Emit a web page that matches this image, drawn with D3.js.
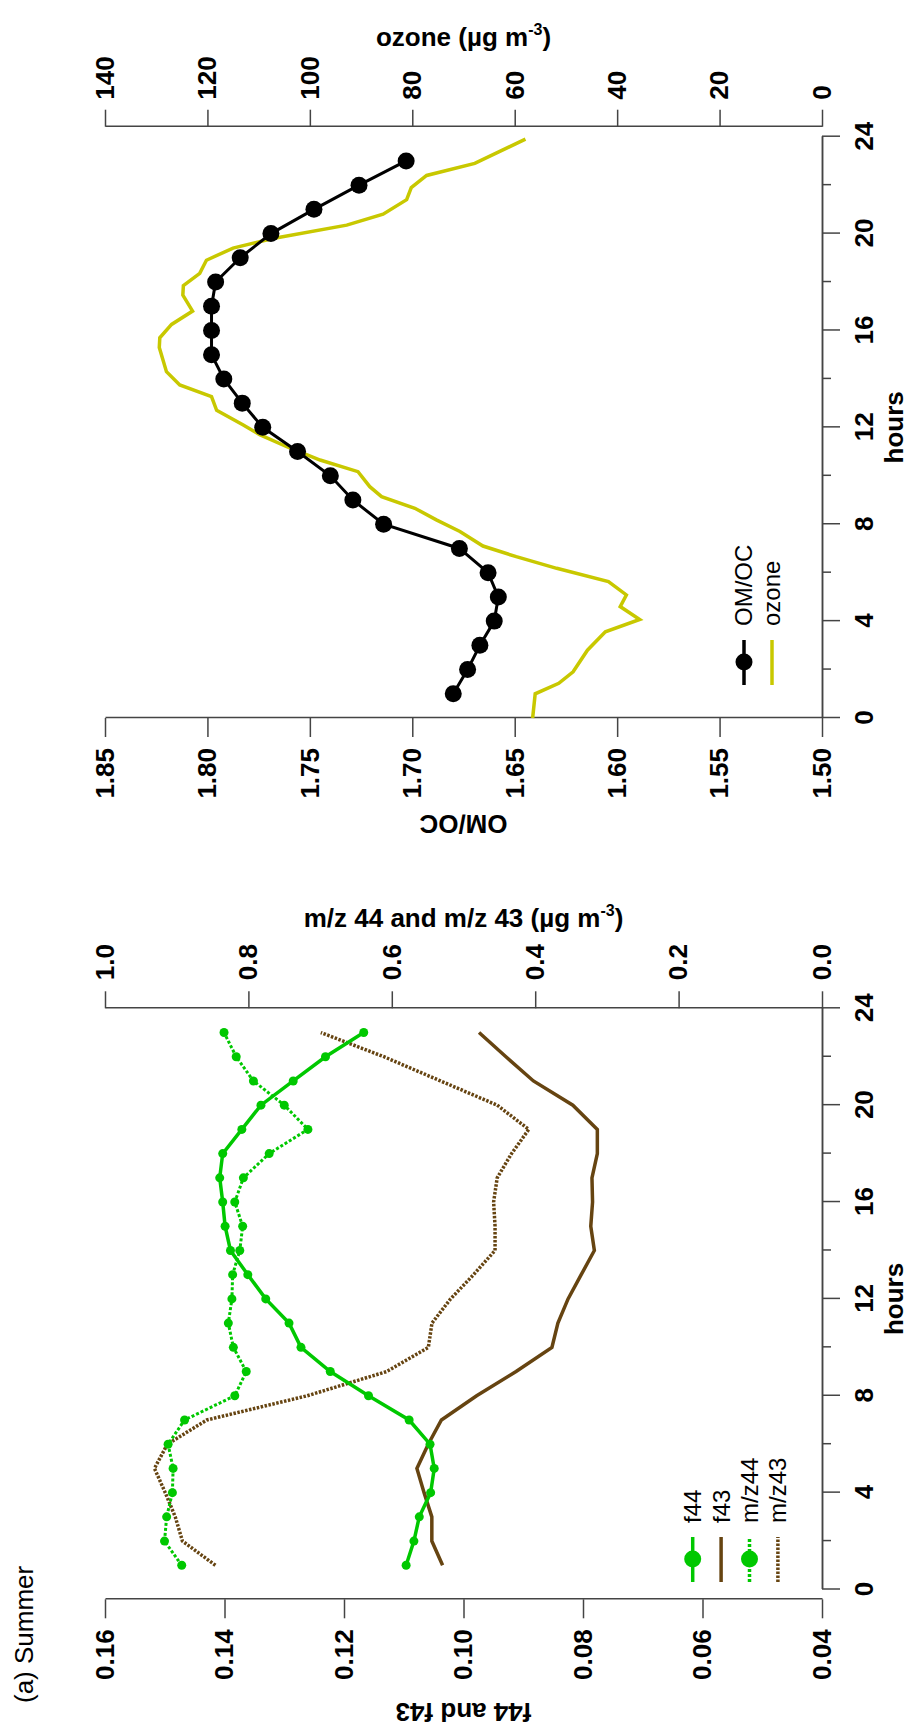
<!DOCTYPE html>
<html>
<head>
<meta charset="utf-8">
<script src="https://cdn.jsdelivr.net/npm/d3@7"></script>
<style>
body { margin: 0; background: #fff; }
</style>
</head>
<body>
<script>
//hours of the day for the hourly series
var hours = [1, 2, 3, 4, 5, 6, 7, 8, 9, 10, 11, 12, 13, 14, 15, 16, 17, 18, 19, 20, 21, 22, 23];

//panel (a) summer: fractions (left axis) and signals (right axis)
var f44 = [0.1096, 0.1083, 0.1074, 0.1055, 0.1049, 0.1056, 0.1091, 0.1159, 0.1223, 0.1272, 0.1292, 0.1331,
           0.1361, 0.1390, 0.1399, 0.1403, 0.1408, 0.1403, 0.1371, 0.1339, 0.1285, 0.1231, 0.1167];
var f43 = [0.1035, 0.1053, 0.1053, 0.1066, 0.1078, 0.1059, 0.1037, 0.0978, 0.0912, 0.0852, 0.0842, 0.0825,
           0.0803, 0.0781, 0.0787, 0.0784, 0.0785, 0.0776, 0.0776, 0.0817, 0.0883, 0.0929, 0.0974];
var mz44 = [0.893, 0.917, 0.914, 0.906, 0.905, 0.912, 0.889, 0.819, 0.803, 0.821, 0.828, 0.823,
            0.822, 0.812, 0.808, 0.819, 0.807, 0.771, 0.717, 0.750, 0.793, 0.817, 0.834];
var mz43 = [0.846, 0.892, 0.902, 0.916, 0.931, 0.913, 0.858, 0.718, 0.607, 0.549, 0.544, 0.518,
            0.486, 0.456, 0.456, 0.458, 0.453, 0.433, 0.409, 0.453, 0.532, 0.611, 0.699];

//second panel: OM/OC (left axis) and ozone (right axis)
var omoc = [1.680, 1.673, 1.667, 1.660, 1.658, 1.663, 1.677, 1.714, 1.729, 1.740, 1.756, 1.773,
            1.783, 1.792, 1.798, 1.798, 1.798, 1.796, 1.784, 1.769, 1.748, 1.726, 1.703];
var ozoneHours = [0, 1.0, 1.43, 1.91, 2.8, 3.56, 4.07, 4.6, 5.08, 5.63, 6.18, 6.66, 7.1, 7.7, 8.18, 8.66,
                  9.14, 9.55, 10.17, 10.65, 11.2, 11.7, 12.1, 12.7, 13.27, 13.75, 14.3, 15.3, 15.7, 16.25,
                  16.8, 17.46, 17.85, 18.36, 18.9, 19.4, 19.8, 20.35, 20.8, 21.4, 21.9, 22.4, 22.9, 23.9];
var ozone = [56.5, 56, 51.4, 48.6, 45.8, 42.3, 35.6, 39.4, 38.2, 41.7, 51.8, 59.7, 66.2, 70.7, 75.3, 79.5,
             86, 88.3, 90.6, 98, 104.5, 109.8, 113, 118.2, 119.2, 125.4, 128, 129.4, 129.3, 127,
             122.9, 124.8, 124.7, 121.5, 120.2, 115, 107.2, 92.8, 85.7, 81.1, 80.2, 77.2, 67.8, 57.9];

//tick values
var hourMajor = [0, 4, 8, 12, 16, 20, 24];
var hourMinor = [2, 6, 10, 14, 18, 22];
var fTicks = [0.04, 0.06, 0.08, 0.10, 0.12, 0.14, 0.16];
var mzTicks = [0, 0.2, 0.4, 0.6, 0.8, 1.0];
var omocTicks = [1.50, 1.55, 1.60, 1.65, 1.70, 1.75, 1.80, 1.85];
var ozoneTicks = [0, 20, 40, 60, 80, 100, 120, 140];

var green = "#00c800", brown = "#664411", yellow = "#c8c800", axisColor = "#444";
var font = "'Liberation Sans', Arial, sans-serif";

//the figure is drawn landscape and turned a quarter to fit the page
var svg = d3.select("body")
            .append("svg")
            .attr("width", 913)
            .attr("height", 1730);

var g = svg.append("g")
           .attr("transform", "translate(0,1730) rotate(-90)");

var yTop = 105, yBottom = 822;

//scales for panel (a)
var xA = d3.scaleLinear().domain([0, 24]).range([140.5, 721.7]);
var yA = d3.scaleLinear().domain([0.04, 0.16]).range([yBottom, yTop]);
var yA2 = d3.scaleLinear().domain([0, 1]).range([yBottom, yTop]);

//scales for OM/OC panel
var xB = d3.scaleLinear().domain([0, 24]).range([1012, 1593.3]);
var yB = d3.scaleLinear().domain([1.50, 1.85]).range([yBottom, yTop]);
var yB2 = d3.scaleLinear().domain([0, 140]).range([yBottom, yTop]);

function styleAxis(sel){
    sel.select(".domain").attr("stroke", axisColor).attr("stroke-width", 1.5);
    sel.selectAll(".tick line").attr("stroke", axisColor).attr("stroke-width", 1.5);
    sel.selectAll("text")
       .attr("font-family", font)
       .attr("font-size", 26)
       .attr("font-weight", "bold")
       .attr("fill", "#000");
}

function hourAxis(x){
    g.append("g")
     .attr("transform", "translate(0," + yBottom + ")")
     .call(d3.axisBottom(x).tickValues(hourMinor).tickSize(9).tickSizeOuter(0).tickFormat(""))
     .call(styleAxis);
    g.append("g")
     .attr("transform", "translate(0," + yBottom + ")")
     .call(d3.axisBottom(x).tickValues(hourMajor).tickSize(18).tickSizeOuter(0).tickPadding(15))
     .call(styleAxis);
    g.append("text")
     .attr("x", x(12))
     .attr("y", 903)
     .attr("text-anchor", "middle")
     .attr("font-family", font)
     .attr("font-size", 26)
     .attr("font-weight", "bold")
     .text("hours");
}

//axis title with a superscript unit
function unitTitle(x, angle, label){
    var t = g.append("text")
             .attr("transform", "translate(" + x + "," + ((yTop + yBottom) / 2) + ") rotate(" + angle + ")")
             .attr("text-anchor", "middle")
             .attr("font-family", font)
             .attr("font-size", 26)
             .attr("font-weight", "bold");
    t.append("tspan").text(label + " (\u00b5g m");
    t.append("tspan").attr("dy", -11).attr("font-size", 16).text("-3");
    t.append("tspan").attr("dy", 11).text(")");
}

function plainTitle(x, angle, label){
    g.append("text")
     .attr("transform", "translate(" + x + "," + ((yTop + yBottom) / 2) + ") rotate(" + angle + ")")
     .attr("text-anchor", "middle")
     .attr("font-family", font)
     .attr("font-size", 26)
     .attr("font-weight", "bold")
     .text(label);
}

// ---- panel (a) ----
g.append("g")
 .attr("transform", "translate(130.7,0)")
 .call(d3.axisLeft(yA).tickValues(fTicks).tickFormat(d3.format(".2f")).tickSize(19).tickSizeOuter(0).tickPadding(11))
 .call(styleAxis);

g.append("g")
 .attr("transform", "translate(" + xA(24) + ",0)")
 .call(d3.axisRight(yA2).tickValues(mzTicks).tickFormat(d3.format(".1f")).tickSize(17).tickSizeOuter(0).tickPadding(11))
 .call(styleAxis);

hourAxis(xA);
plainTitle(27, -90, "f44 and f43");
unitTitle(803, 90, "m/z 44 and m/z 43");

g.append("text")
 .attr("x", 27)
 .attr("y", 33)
 .attr("font-family", font)
 .attr("font-size", 26)
 .text("(a) Summer");

var lineF = d3.line().x(function(d, i){ return xA(hours[i]); }).y(function(d){ return yA(d); });
var lineM = d3.line().x(function(d, i){ return xA(hours[i]); }).y(function(d){ return yA2(d); });

g.append("path").datum(mz43).attr("d", lineM).attr("fill", "none")
 .attr("stroke", brown).attr("stroke-width", 3.5).attr("stroke-dasharray", "2.5,1.5");
g.append("path").datum(f43).attr("d", lineF).attr("fill", "none")
 .attr("stroke", brown).attr("stroke-width", 3.5);
g.append("path").datum(mz44).attr("d", lineM).attr("fill", "none")
 .attr("stroke", green).attr("stroke-width", 3).attr("stroke-dasharray", "3,2");
g.append("path").datum(f44).attr("d", lineF).attr("fill", "none")
 .attr("stroke", green).attr("stroke-width", 3.5);

g.append("g").selectAll("circle")
 .data(mz44).enter().append("circle")
 .attr("cx", function(d, i){ return xA(hours[i]); })
 .attr("cy", function(d){ return yA2(d); })
 .attr("r", 4.5)
 .attr("fill", green);

g.append("g").selectAll("circle")
 .data(f44).enter().append("circle")
 .attr("cx", function(d, i){ return xA(hours[i]); })
 .attr("cy", function(d){ return yA(d); })
 .attr("r", 4.5)
 .attr("fill", green);

//legend of panel (a)
var legendA = [
    {label: "f44", color: green, dash: null, dot: true},
    {label: "f43", color: brown, dash: null, dot: false},
    {label: "m/z44", color: green, dash: "3,2", dot: true},
    {label: "m/z43", color: brown, dash: "2.5,1.5", dot: false}
];

function drawLegend(items, x0, y0, step){
    items.forEach(function(item, i){
        var y = y0 + i * step;
        g.append("line")
         .attr("x1", x0).attr("x2", x0 + 45)
         .attr("y1", y).attr("y2", y)
         .attr("stroke", item.color)
         .attr("stroke-width", 3.5)
         .attr("stroke-dasharray", item.dash);
        if(item.dot){
            g.append("circle")
             .attr("cx", x0 + 23).attr("cy", y)
             .attr("r", 8.5)
             .attr("fill", item.color);
        }
        g.append("text")
         .attr("x", x0 + 59)
         .attr("y", y)
         .attr("dy", "0.35em")
         .attr("font-family", font)
         .attr("font-size", 24)
         .text(item.label);
    });
}

drawLegend(legendA, 148, 692.7, 28.4);

// ---- OM/OC panel ----
g.append("g")
 .attr("transform", "translate(" + xB(0) + ",0)")
 .call(d3.axisLeft(yB).tickValues(omocTicks).tickFormat(d3.format(".2f")).tickSize(19).tickSizeOuter(0).tickPadding(11))
 .call(styleAxis);

g.append("g")
 .attr("transform", "translate(1603.3,0)")
 .call(d3.axisRight(yB2).tickValues(ozoneTicks).tickSize(17).tickSizeOuter(0).tickPadding(10))
 .call(styleAxis);

hourAxis(xB);
plainTitle(915, -90, "OM/OC");
unitTitle(1684, 90, "ozone");

var lineO3 = d3.line().x(function(d, i){ return xB(ozoneHours[i]); }).y(function(d){ return yB2(d); });
var lineOM = d3.line().x(function(d, i){ return xB(hours[i]); }).y(function(d){ return yB(d); });

g.append("path").datum(ozone).attr("d", lineO3).attr("fill", "none")
 .attr("stroke", yellow).attr("stroke-width", 3.5);
g.append("path").datum(omoc).attr("d", lineOM).attr("fill", "none")
 .attr("stroke", "#000").attr("stroke-width", 3);

g.append("g").selectAll("circle")
 .data(omoc).enter().append("circle")
 .attr("cx", function(d, i){ return xB(hours[i]); })
 .attr("cy", function(d){ return yB(d); })
 .attr("r", 8.5)
 .attr("fill", "#000");

var legendB = [
    {label: "OM/OC", color: "#000", dash: null, dot: true},
    {label: "ozone", color: yellow, dash: null, dot: false}
];

drawLegend(legendB, 1045, 744, 28);
</script>
</body>
</html>
